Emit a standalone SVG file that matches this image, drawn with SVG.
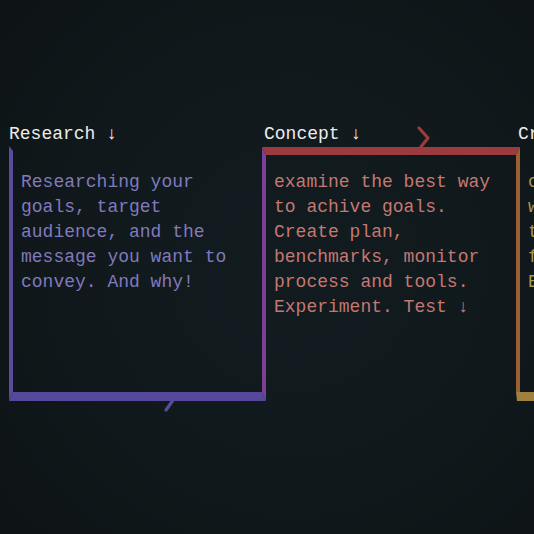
<svg xmlns="http://www.w3.org/2000/svg" width="534" height="534" viewBox="0 0 534 534">
  <defs>
    <radialGradient id="bg" cx="0.55" cy="0.5" r="0.75">
      <stop offset="0" stop-color="#121c20"/>
      <stop offset="0.6" stop-color="#10181b"/>
      <stop offset="1" stop-color="#0d1315"/>
    </radialGradient>
    <style>
      .hd { font-family: "Liberation Mono", "Courier New", monospace; font-size: 18px; fill: #ececec; }
      .bd { font-family: "Liberation Mono", "Courier New", monospace; font-size: 18px; }
      .r { fill: #8179bc; }
      .c { fill: #c47872; }
      .k { fill: #a8964e; }
      .chev { fill: none; stroke-width: 3.2; stroke-linecap: round; stroke-linejoin: round; }
    </style>
  </defs>
  <rect x="0" y="0" width="534" height="534" fill="url(#bg)"/>

  <g id="connectors">
    <polyline class="chev" stroke="#9b3b3d" points="419,128 428,138 420,148"/>
    <line class="chev" stroke="#5a4b9d" x1="176" y1="396" x2="166" y2="410"/>
  </g>

  <g id="research">
    <text class="hd" x="9" y="139">Research ↓</text>
    <polygon fill="#5a4b9d" points="9,146 13,151 13,392 9,401"/>
    <polygon fill="#56499b" points="9,401 13,392 262,392 266,401"/>
    <polygon fill="#7c3f96" points="262,147 266,155 266,401 262,392"/>
    <text class="bd r" x="21" y="187">Researching your</text>
    <text class="bd r" x="21" y="212">goals, target</text>
    <text class="bd r" x="21" y="237">audience, and the</text>
    <text class="bd r" x="21" y="262">message you want to</text>
    <text class="bd r" x="21" y="287">convey. And why!</text>
  </g>

  <g id="concept">
    <text class="hd" x="264" y="139">Concept ↓</text>
    <polygon fill="#9b3b3d" points="262,147 520,147 516,155 266,155"/>
    <polygon fill="#9a6034" points="516,155 520,147 520,392 516,392"/>
    <text class="bd c" x="274" y="187">examine the best way</text>
    <text class="bd c" x="274" y="212">to achive goals.</text>
    <text class="bd c" x="274" y="237">Create plan,</text>
    <text class="bd c" x="274" y="262">benchmarks, monitor</text>
    <text class="bd c" x="274" y="287">process and tools.</text>
    <text class="bd c" x="274" y="312">Experiment. Test ↓</text>
  </g>

  <g id="create">
    <text class="hd" x="518" y="139">Cr</text>
    <polygon fill="#a0803e" points="516,392 534,392 534,401 517,401"/>
    <text class="bd k" x="528" y="187">c</text>
    <text class="bd k" x="528" y="212">w</text>
    <text class="bd k" x="528" y="237">t</text>
    <text class="bd k" x="528" y="262">f</text>
    <text class="bd k" x="528" y="287">E</text>
  </g>
</svg>
